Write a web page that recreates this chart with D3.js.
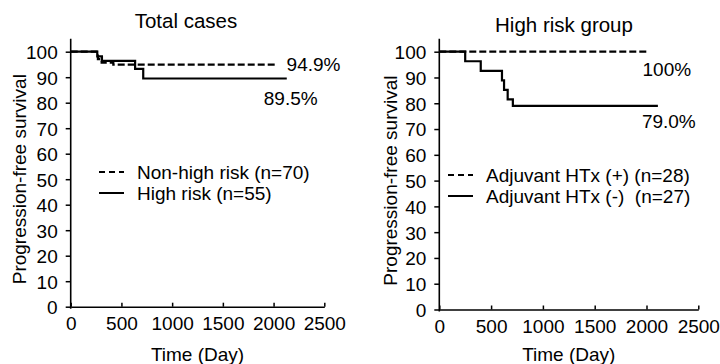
<!DOCTYPE html>
<html><head><meta charset="utf-8">
<script src="https://cdn.jsdelivr.net/npm/d3@7"></script>
<style>
body{margin:0;background:#fff;}
svg text{font-family:"Liberation Sans",Arial,sans-serif;fill:#000;white-space:pre;}
</style></head>
<body><svg id="c" width="720" height="364"></svg>
<script>
// ---- data ----
const xTicks = [0, 500, 1000, 1500, 2000, 2500];
const yTicks = [0, 10, 20, 30, 40, 50, 60, 70, 80, 90, 100];

const nonHighTime = [0, 268, 305, 420, 2030];
const nonHighSurv = [100, 97.1, 95.7, 94.9, 94.9];
const highTime = [0, 262, 308, 635, 715, 2130];
const highSurv = [100, 98.2, 96.4, 93.3, 89.5, 89.5];

const htxPlusTime = [0, 2000];
const htxPlusSurv = [100, 100];
const htxMinusTime = [0, 250, 400, 605, 625, 660, 710, 2110];
const htxMinusSurv = [100, 96.3, 92.6, 88.9, 85.2, 81.5, 79.0, 79.0];

const panelTitles = ["Total cases", "High risk group"];
const leftLegend = ["Non-high risk (n=70)", "High risk (n=55)"];
const rightLegend = ["Adjuvant HTx (+) (n=28)", "Adjuvant HTx (-)  (n=27)"];
const leftEndLabels = ["94.9%", "89.5%"];
const rightEndLabels = ["100%", "79.0%"];
const xLabel = "Time (Day)";
const yLabel = "Progression-free survival";

// ---- drawing ----
const svg = d3.select("#c");
const FS = 19;

function panel(cfg) {
  const x = d3.scaleLinear().domain([0, 2500]).range([cfg.x0, cfg.x1]);
  const y = d3.scaleLinear().domain([0, 100]).range([cfg.y0, cfg.y1]);
  const g = svg.append("g");

  // y axis
  const ya = g.append("g").attr("transform", `translate(${cfg.x0},0)`)
    .call(d3.axisLeft(y).tickValues(yTicks).tickFormat(d3.format("d")).tickSize(5).tickPadding(8).tickSizeOuter(0));
  ya.select(".domain").remove();
  ya.selectAll("line").attr("stroke", "#000").attr("stroke-width", 1.5);
  ya.selectAll("text").style("font-size", FS + "px").attr("dy", "0.36em");
  g.append("line").attr("x1", cfg.x0).attr("x2", cfg.x0)
    .attr("y1", y(0) + 2).attr("y2", y(100) - 13)
    .attr("stroke", "#000").attr("stroke-width", 1.6);

  // x axis
  const xa = g.append("g").attr("transform", `translate(0,${cfg.y0})`)
    .call(d3.axisBottom(x).tickValues(xTicks).tickFormat(d3.format("d")).tickSize(-4).tickPadding(10).tickSizeOuter(0));
  xa.select(".domain").attr("stroke", "#000").attr("stroke-width", 1.6);
  xa.selectAll("line").attr("stroke", "#000").attr("stroke-width", 1.5);
  xa.selectAll("text").style("font-size", FS + "px");

  // titles and axis labels
  g.append("text").attr("x", cfg.tx).attr("y", cfg.ty).attr("text-anchor", "middle")
    .style("font-size", "20.5px").text(cfg.title);
  g.append("text").attr("x", (cfg.x0 + cfg.x1) / 2).attr("y", 361).attr("text-anchor", "middle")
    .style("font-size", FS + "px").text(xLabel);
  g.append("text").attr("transform", `translate(${cfg.ylx},${(cfg.y0 + y(100)) / 2}) rotate(-90)`)
    .attr("text-anchor", "middle").attr("dominant-baseline", "central")
    .style("font-size", FS + "px").text(yLabel);

  // curves
  const line = d3.line().x(d => x(d[0])).y(d => y(d[1])).curve(d3.curveStepAfter);
  cfg.series.forEach(s => {
    const pts = s.t.map((t, i) => [t, s.v[i]]);
    g.append("path").attr("d", line(pts)).attr("fill", "none")
      .attr("stroke", "#000").attr("stroke-width", 2.2)
      .attr("stroke-dasharray", s.dash ? "7,3" : null);
    const last = pts[pts.length - 1];
    g.append("text").attr("x", x(last[0]) + s.lx).attr("y", y(last[1]) + s.ly)
      .style("font-size", FS + "px").text(s.label);
  });

  // legend
  cfg.legend.forEach((txt, i) => {
    const ly = cfg.legY + i * 21;
    g.append("line").attr("x1", cfg.legX).attr("x2", cfg.legX + 25)
      .attr("y1", ly).attr("y2", ly).attr("stroke", "#000").attr("stroke-width", 2)
      .attr("stroke-dasharray", i === 0 ? "6,4" : null);
    g.append("text").attr("x", cfg.legX + 38).attr("y", ly).attr("dominant-baseline", "central")
      .style("font-size", FS + "px").text(txt);
  });
}

panel({
  x0: 70.7, x1: 324.3, y0: 306.7, y1: 51.7,
  title: panelTitles[0], tx: 186, ty: 28,
  ylx: 19,
  legend: leftLegend, legX: 99, legY: 172,
  series: [
    {t: nonHighTime, v: nonHighSurv, dash: true, label: leftEndLabels[0], lx: 10, ly: 6},
    {t: highTime, v: highSurv, dash: false, label: leftEndLabels[1], lx: -23, ly: 27}
  ]
});
panel({
  x0: 439.3, x1: 698.3, y0: 309.5, y1: 51.7,
  title: panelTitles[1], tx: 564, ty: 32,
  ylx: 390,
  legend: rightLegend, legX: 448, legY: 175,
  series: [
    {t: htxPlusTime, v: htxPlusSurv, dash: true, label: rightEndLabels[0], lx: -4, ly: 24},
    {t: htxMinusTime, v: htxMinusSurv, dash: false, label: rightEndLabels[1], lx: -16, ly: 22}
  ]
});
</script></body></html>
